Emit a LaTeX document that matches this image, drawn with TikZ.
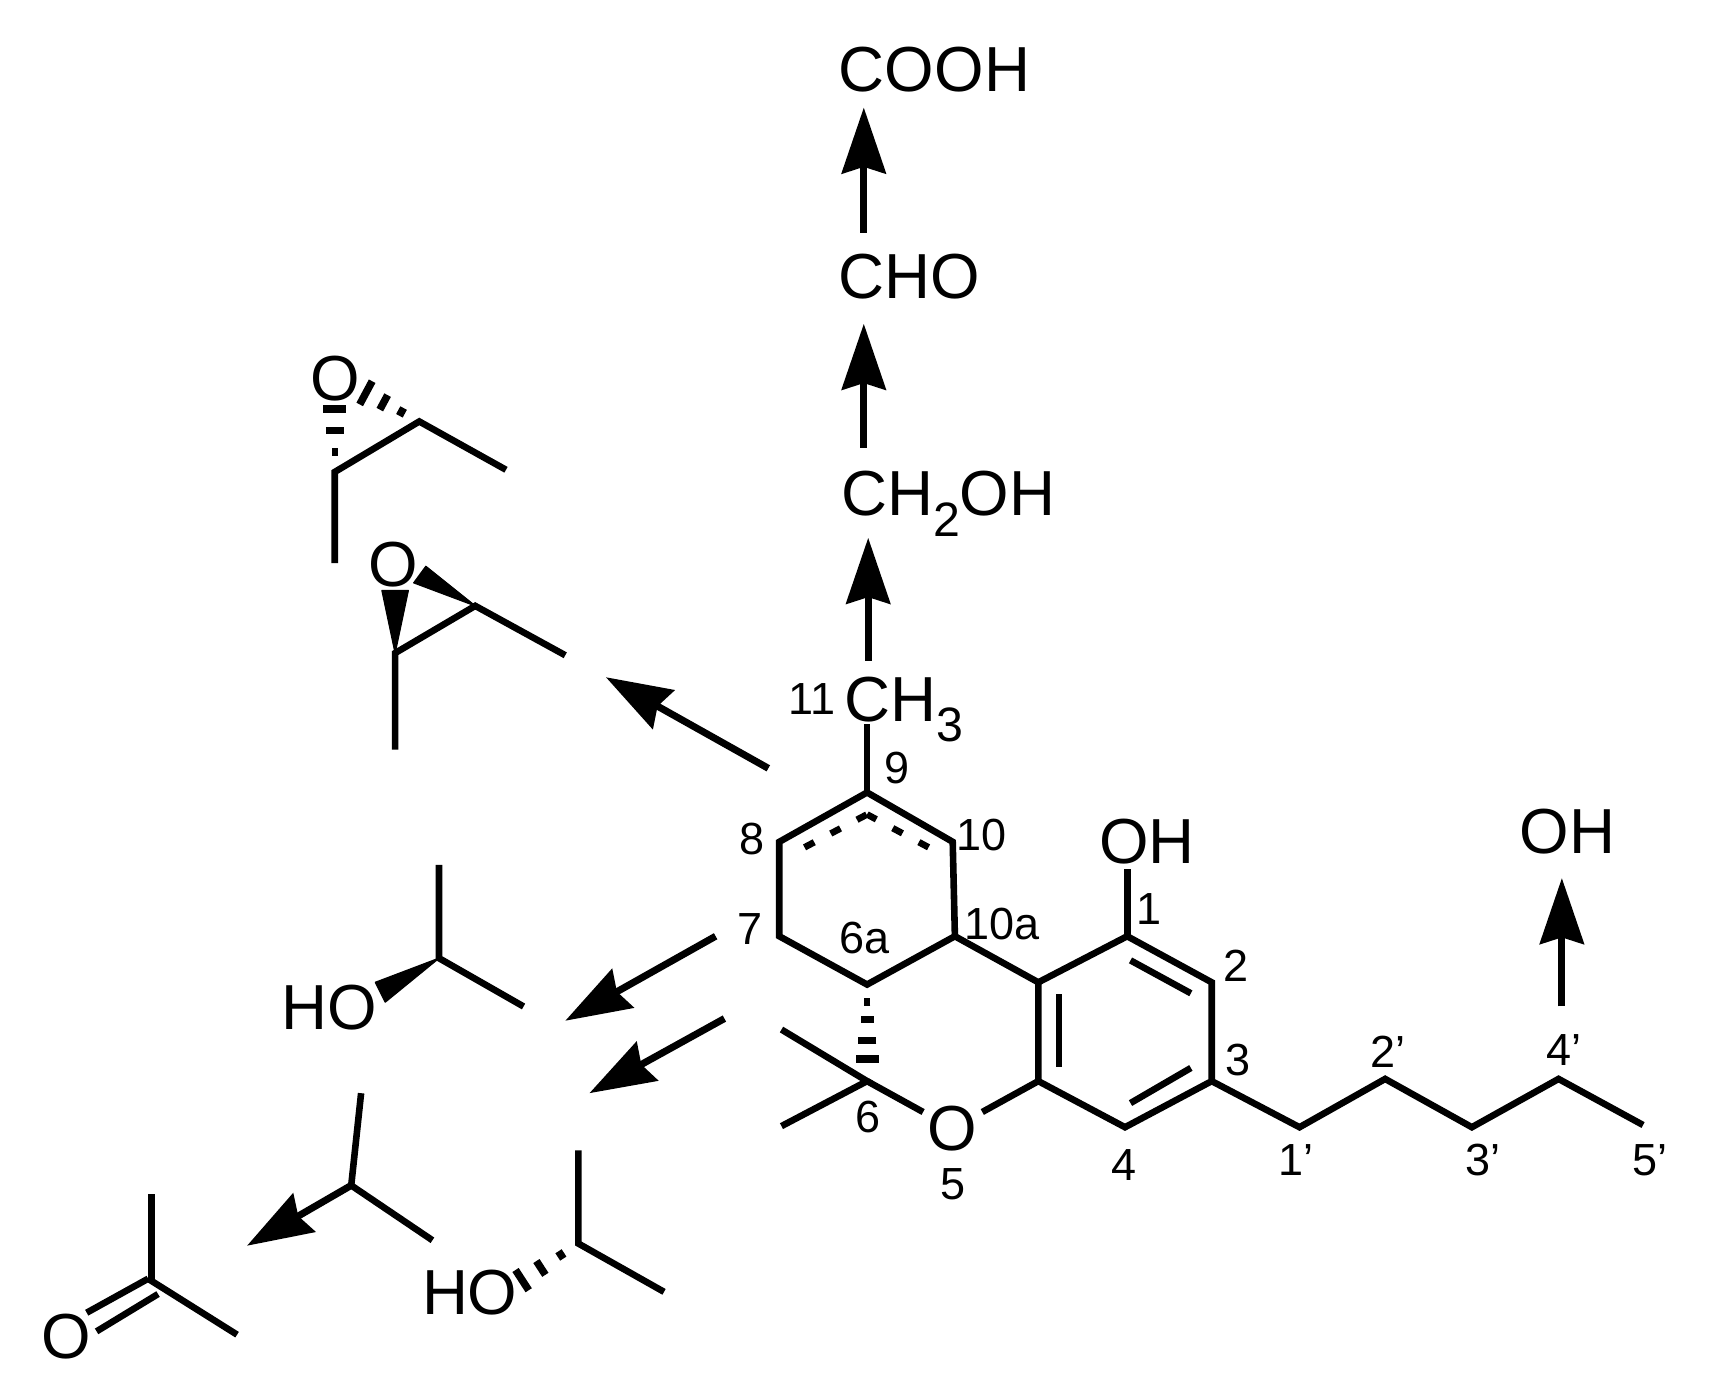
\documentclass[tikz,border=0pt]{standalone}
\usepackage{fontspec}
\setmainfont{Liberation Sans}
\usetikzlibrary{arrows.meta,calc}
\tikzset{
  bond/.style={line width=3pt,line cap=butt,line join=miter},
  arr/.style={line width=3.2pt,-{Stealth[length=30pt,width=20pt,inset=3pt]}},
  atom/.style={inner sep=0pt,font=\fontsize{29}{32}\selectfont},
  atomb/.style={atom,inner sep=2pt},
  num/.style={inner sep=0pt,font=\fontsize{20.5}{24}\selectfont},
  wedge/.style={fill=black,draw=black,line width=.6pt,line join=round},
}
\newcommand{\subs}[1]{\raisebox{-.32em}{\fontsize{22}{24}\selectfont #1}}
\newcommand{\hashes}[3]{% from, to, list t/half-width
  \foreach \t/\w in {#3}
    \draw[line width=3.4pt] ($(#1)!\t!(#2)!\w!90:(#2)$) -- ($(#1)!\t!(#2)!\w!-90:(#2)$);}
\begin{document}
\begin{tikzpicture}[x=.5pt,y=-.5pt]
\useasboundingbox (0,0) rectangle (1568,1258);
% main skeleton
\foreach \n/\x/\y in {c9/790/722,c8/710/767,c7/710/853,c6a/790/897,c10a/870/853,c10/868/767,
  c10b/946/895,c1/1027/853,c2/1104/895,c3/1104/985,c4/1025/1027,c4a/946/985,
  p1/1184/1027,p2/1262/983,p3/1341/1027,p4/1420/983,p5/1497/1025,
  c6/790/985,me1/712/938,me2/712/1026,
  ch3b/790/660,ohb/1027/792,
  d1a/733/772,d1b/790/742,d1c/846/772,
  i1a/1030/875,i1b/1085/905,i2a/1085/973,i2b/1030/1005,i3a/965/906,i3b/965/972,
  ea1/382/384,ea2/305/430,ea3/305/513,ea4/461/428,ea5/305/365,ea6/328/355,
  eb1/433/552,eb2/360/595,eb3/360/683,eb4/515/597,
  eb5/348/538,eb6/372/538,eb7/388/516,eb8/377/531,
  f1/400/873,f1u/400/788,f1r/477/917,f1a/342/895,f1b/351/913,
  f2/527/1133,f2u/527/1048,f2r/605/1177,f2h/470/1170,
  g/320/1080,gu/329/996,gr/394/1130,gt/225/1135,
  k/138/1167,ku/138/1088,kr/216/1216,ka1/135/1165,ka2/79/1196,kb1/144/1179,kb2/88/1213,
  a1s/787/212,a1e/787/98,a2s/787/408,a2e/787/295,a3s/791/602,a3e/791/490,
  a4s/700/700,a4e/552/617,a5s/652/853,a5e/515/930,a6s/660/928,a6e/537/996,
  a7s/1423/917,a7e/1423/800}
  \coordinate (\n) at (\x,\y);
% text
\node[atom,anchor=base west] (cooh) at (764,83) {COOH};
\node[atom,anchor=base west] (cho) at (764,272) {CHO};
\node[atom,anchor=base west] (ch2oh) at (766,470) {CH\subs{2}OH};
\node[atom,anchor=base west] (ch3) at (769,657) {CH\subs{3}};
\node[atom] (oh1) at (1045,767) {OH};
\node[atom] (oh2) at (1428,758) {OH};
\node[atomb] (o5) at (868,1028) {O};
\node[atom] (oe1) at (305,345) {O};
\node[atom] (oe2) at (358,514) {O};
\node[atom] (ho1) at (300,918) {HO};
\node[atom] (ho2) at (428,1178) {HO};
\node[atom] (ok) at (60,1218) {O};
\foreach \n/\x/\y/\t in {n11/740/637/11,n9/817/700/9,n8/685/764/8,n10/894/761/10,n7/683/846/7,
  n6a/788/855/6a,n10a/913/842/10a,n1/1047/828/1,n2/1126/880/2,n3/1128/966/3,
  np2/1265/958/2',np4/1425/957/4',np1/1181/1057/1',np3/1351/1057/3',np5/1503/1057/5',
  n4/1024/1061/4,n5/868/1079/5,n6/791/1018/6}
  \node[num] (\n) at (\x,\y) {\t};
% bonds
\draw[bond] (c8) -- (c9) -- (c10) -- (c10a) -- (c6a) -- (c7) -- cycle;
\draw[bond] (c9) -- (ch3b);
\draw[bond] (c10a) -- (c10b);
\draw[bond] (c10b) -- (c1) -- (c2) -- (c3) -- (c4) -- (c4a) -- cycle;
\draw[bond] (c3) -- (p1) -- (p2) -- (p3) -- (p4) -- (p5);
\draw[bond] (c1) -- (ohb);
\draw[bond] (me1) -- (c6) -- (me2);
\draw[bond] (c6) -- (o5);
\draw[bond] (o5) -- (c4a);
\draw[bond] (i1a) -- (i1b);
\draw[bond] (i2a) -- (i2b);
\draw[bond] (i3a) -- (i3b);
\draw[bond,dash pattern=on 5pt off 8.5pt] (d1a) -- (d1b);
\draw[bond,dash pattern=on 5pt off 8.5pt] (d1c) -- (d1b);
\hashes{c6a}{c6}{.18/1.5pt,.36/3pt,.58/4.25pt,.77/5.25pt}
% epoxide 1
\draw[bond] (ea3) -- (ea2) -- (ea1) -- (ea4);
\hashes{ea2}{ea5}{.28/1.25pt,.58/4pt,.88/5.25pt}
\hashes{ea1}{ea6}{.3/2pt,.6/3.75pt,.9/6pt}
% epoxide 2
\draw[bond] (eb3) -- (eb2) -- (eb1) -- (eb4);
\fill[wedge] (eb2) -- (eb5) -- (eb6) -- cycle;
\fill[wedge] (eb1) -- (eb7) -- (eb8) -- cycle;
% alcohol 1
\draw[bond] (f1u) -- (f1) -- (f1r);
\fill[wedge] (f1) -- (f1a) -- (f1b) -- cycle;
% alcohol 2
\draw[bond] (f2u) -- (f2) -- (f2r);
\hashes{f2}{f2h}{.28/2pt,.6/3.75pt,.9/5.5pt}
% isopropyl
\draw[bond] (gu) -- (g) -- (gr);
\draw[arr] (g) -- (gt);
% acetone
\draw[bond] (ku) -- (k) -- (kr);
\draw[bond] (ka1) -- (ka2);
\draw[bond] (kb1) -- (kb2);
% arrows
\draw[arr] (a1s) -- (a1e);
\draw[arr] (a2s) -- (a2e);
\draw[arr] (a3s) -- (a3e);
\draw[arr] (a4s) -- (a4e);
\draw[arr] (a5s) -- (a5e);
\draw[arr] (a6s) -- (a6e);
\draw[arr] (a7s) -- (a7e);
\end{tikzpicture}
\end{document}
